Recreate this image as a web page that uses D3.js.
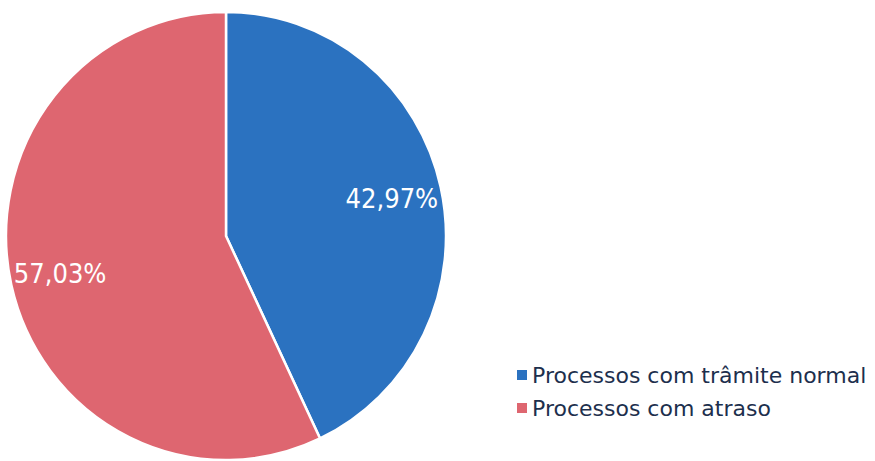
<!DOCTYPE html>
<html>
<head>
<meta charset="utf-8">
<script src="https://cdn.jsdelivr.net/npm/d3@7"></script>
<style>
  html, body { margin: 0; padding: 0; background: #ffffff; }
  svg { display: block; }
</style>
</head>
<body>
<svg id="chart" width="875" height="461"></svg>
<script>
const categories = ["Processos com trâmite normal", "Processos com atraso"];
const values = [42.97, 57.03];
const labels = ["42,97%", "57,03%"];
const colors = ["#2b72c0", "#de6670"];

const svg = d3.select("#chart");
const cx = 226, cy = 236, rx = 220, ry = 224;

const pie = d3.pie().sort(null).value(d => d.value);
const arcs = pie(categories.map((c, i) => ({ name: c, value: values[i], label: labels[i] })));

const arc = d3.arc().innerRadius(0).outerRadius(rx);
const labelArc = d3.arc().innerRadius(170).outerRadius(170);

const g = svg.append("g")
  .attr("transform", `translate(${cx},${cy}) scale(1,${ry / rx})`);

g.selectAll("path.slice")
  .data(arcs)
  .join("path")
  .attr("class", "slice")
  .attr("d", arc)
  .attr("fill", (d, i) => colors[i])
  .attr("stroke", "#ffffff")
  .attr("stroke-width", 2.5)
  .attr("stroke-linejoin", "miter");

const lg = svg.append("g").attr("transform", `translate(${cx},${cy})`);
lg.selectAll("text.lbl")
  .data(arcs)
  .join("text")
  .attr("class", "lbl")
  .attr("x", d => labelArc.centroid(d)[0])
  .attr("y", d => labelArc.centroid(d)[1] * ry / rx)
  .attr("dy", "0.35em")
  .attr("text-anchor", "middle")
  .attr("fill", "#ffffff")
  .attr("font-family", "'DejaVu Sans Condensed', 'DejaVu Sans', sans-serif")
  .attr("font-size", 27)
  .text(d => d.data.label);

const legend = svg.append("g").attr("transform", "translate(517,370)");
const item = legend.selectAll("g.item")
  .data(categories)
  .join("g")
  .attr("class", "item")
  .attr("transform", (d, i) => `translate(0,${i * 33})`);
item.append("rect")
  .attr("width", 10).attr("height", 10)
  .attr("fill", (d, i) => colors[i]);
item.append("text")
  .attr("x", 15).attr("y", 5)
  .attr("dy", "0.36em")
  .attr("fill", "#1d2f4d")
  .attr("font-family", "'DejaVu Sans', sans-serif")
  .attr("font-size", 22)
  .text(d => d);
</script>
</body>
</html>
